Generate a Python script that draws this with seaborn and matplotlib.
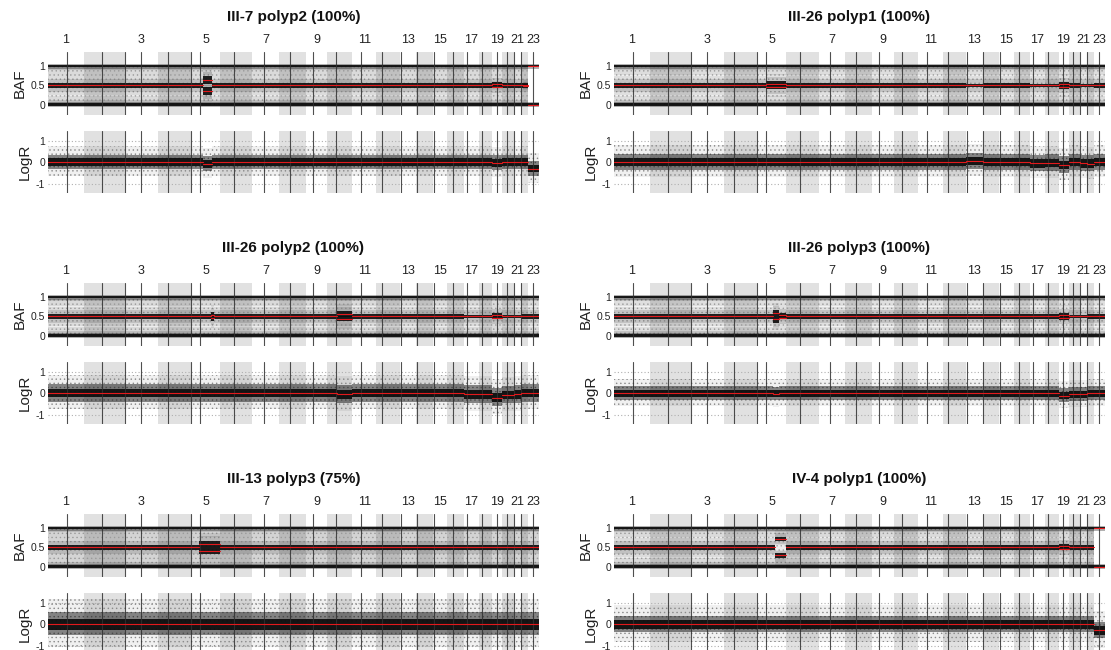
import numpy as np
import pandas as pd
import matplotlib
matplotlib.use("Agg")
import matplotlib.pyplot as plt
import seaborn as sns

# ---------------- data ----------------
chrom_names = [str(i) for i in range(1, 24)]
# relative chromosome widths (SNP-index based x axis)
chrom_widths = [36, 41, 33, 33, 29, 32.5, 26.5, 26.5, 22, 24.5, 24.5, 23.5,
                16.5, 16.5, 14.5, 16.5, 15, 13.5, 10, 11.5, 7, 6.5, 11.5]
# position of the vertical marker line inside each chromosome (fraction)
centromere_frac = [0.52, 0.44, 0.48, 0.30, 0.30, 0.42, 0.42, 0.40, 0.34, 0.33, 0.37, 0.24,
                   0.04, 0.03, 0.05, 0.35, 0.22, 0.22, 0.45, 0.40, 0.03, 0.05, 0.50]
extra_line_chroms = [2, 4]          # a line is also drawn at the end of these

panel_titles = ["III-7 polyp2 (100%)", "III-26 polyp1 (100%)",
                "III-26 polyp2 (100%)", "III-26 polyp3 (100%)",
                "III-13 polyp3 (75%)", "IV-4 polyp1 (100%)"]

# events: (chromosome, start fraction, end fraction, BAF band levels, LogR level, band half width)
events_p1 = [(5, 0.41, 0.72, (0.36, 0.64), -0.08, 0.10),
             (19, 0.0, 1.0, (0.47, 0.53), -0.03, 0.05),
             (22, 0.3, 1.0, (0.48, 0.52), 0.0, 0.05),
             (23, 0.0, 1.0, (), -0.30, 0.05)]
events_p2 = [(5, 0.31, 1.0, (0.45, 0.55), 0.0, 0.055),
             (13, 0.0, 1.0, (0.5,), 0.05, 0.05),
             (17, 0.0, 1.0, (0.5,), -0.05, 0.05),
             (18, 0.0, 1.0, (0.5,), -0.03, 0.05),
             (19, 0.0, 1.0, (0.46, 0.54), -0.12, 0.05),
             (21, 0.0, 1.0, (0.5,), -0.05, 0.05),
             (22, 0.0, 1.0, (0.5,), -0.06, 0.05)]
events_p3 = [(5, 0.68, 0.78, (0.45, 0.55), 0.0, 0.06),
             (10, 0.40, 1.0, (0.44, 0.56), -0.05, 0.07),
             (17, 0.0, 1.0, (0.5,), -0.05, 0.05),
             (18, 0.0, 1.0, (0.5,), -0.05, 0.05),
             (19, 0.0, 1.0, (0.47, 0.53), -0.20, 0.05),
             (20, 0.0, 1.0, (0.5,), -0.08, 0.05),
             (21, 0.0, 1.0, (0.5,), -0.05, 0.05)]
events_p4 = [(5, 0.55, 0.75, (0.42, 0.58), -0.03, 0.08),
             (5, 0.75, 1.0, (0.47, 0.53), 0.0, 0.05),
             (19, 0.0, 1.0, (0.46, 0.54), -0.10, 0.05),
             (20, 0.0, 1.0, (0.5,), -0.05, 0.05),
             (21, 0.0, 1.0, (0.5,), -0.05, 0.05)]
events_p5 = [(5, 0.28, 1.0, (0.41, 0.59), 0.0, 0.09)]
events_p6 = [(5, 0.62, 1.0, (0.29, 0.71), 0.0, 0.055),
             (19, 0.0, 1.0, (0.47, 0.53), 0.0, 0.05),
             (23, 0.0, 1.0, (), -0.28, 0.05)]
panel_events = [events_p1, events_p2, events_p3, events_p4, events_p5, events_p6]

# spread of the point clouds read per panel
het_halfwidth = [0.06, 0.055, 0.055, 0.055, 0.07, 0.055]
logr_core = [0.17, 0.19, 0.19, 0.16, 0.25, 0.20]
logr_mid = [0.32, 0.36, 0.38, 0.30, 0.50, 0.36]
logr_outer = [0.65, 0.70, 0.75, 0.60, 1.05, 0.80]
baf_cloud = [0.07, 0.06, 0.07, 0.05, 0.10, 0.07]

# ---------------- layout ----------------
sns.set_style("white")
plt.rcParams['font.family'] = ['Liberation Sans', 'DejaVu Sans']
plt.rcParams['axes.unicode_minus'] = False
plt.rcParams['hatch.linewidth'] = 0.5

W, H = 1111, 650
fig = plt.figure(figsize=(W / 100, H / 100), dpi=100)

widths = np.array(chrom_widths, dtype=float)
bounds = np.concatenate([[0.0], np.cumsum(widths)])
starts, ends = bounds[:-1], bounds[1:]
centers = (starts + ends) / 2
total = bounds[-1]

col_left = [48, 614]
axes_w = 491
row_off = [0, 231, 462]
BAF_LIM = (-0.27, 1.37)
LOGR_LIM = (-1.43, 1.47)
SHADE = '#e1e1e1'
INK = '#0c0c0c'
RED = '#e3191c'
TXT = '#222222'


def px_axes(left, top, w, h):
    return fig.add_axes([left / W, (H - top - h) / H, w / W, h / H])


def build_segments(events):
    segs = []
    for ci in range(23):
        chrom = ci + 1
        evs = sorted([e for e in events if e[0] == chrom], key=lambda e: e[1])
        pos = 0.0
        for e in evs:
            if e[1] > pos:
                segs.append((chrom, pos, e[1], (0.5,), 0.0, None))
            segs.append(e)
            pos = e[2]
        if pos < 1.0:
            segs.append((chrom, pos, 1.0, (0.5,), 0.0, None))
    out = []
    for chrom, f0, f1, lev, lr, hw in segs:
        x0 = starts[chrom - 1] + f0 * widths[chrom - 1]
        x1 = starts[chrom - 1] + f1 * widths[chrom - 1]
        out.append((x0, x1, lev, lr, hw))
    return out


def step_fill(ax, segs, lo_fn, hi_fn, **kw):
    xs, lo, hi = [], [], []
    for s in segs:
        a, b = lo_fn(s), hi_fn(s)
        xs += [s[0], s[1]]
        lo += [a, a]
        hi += [b, b]
    ax.fill_between(xs, lo, hi, linewidth=0, **kw)


def decorate(ax, ylim):
    ax.set_xlim(0, total)
    ax.set_ylim(*ylim)
    for i in range(1, 23, 2):
        ax.axvspan(starts[i], ends[i], color=SHADE, lw=0, zorder=0)
    lines = [starts[i] + centromere_frac[i] * widths[i] for i in range(23)]
    lines += [ends[c - 1] for c in extra_line_chroms]
    for x in lines:
        ax.axvline(x, color='#303030', lw=0.8, alpha=0.85, zorder=6)
    for sp in ax.spines.values():
        sp.set_visible(False)
    ax.tick_params(axis='both', length=0)


for p in range(6):
    row, col = divmod(p, 2)
    left = col_left[col]
    off = row_off[row]
    segs = build_segments(panel_events[p])
    hw0 = het_halfwidth[p]

    def hw(s):
        return s[4] if s[4] is not None else hw0

    # ---------- BAF ----------
    axb = px_axes(left, 52 + off, axes_w, 63)
    decorate(axb, BAF_LIM)
    # diffuse cloud between homozygous bands
    step_fill(axb, segs, lambda s: 0.0, lambda s: 1.0 if s[2] else 0.0,
              color='k', alpha=baf_cloud[p], zorder=1)
    step_fill(axb, segs, lambda s: 0.0, lambda s: 1.0 if s[2] else 0.0,
              facecolor='none', edgecolor='#a8a8a8', hatch='....', zorder=1)
    for d, a in ((0.22, 0.08), (0.11, 0.12)):
        step_fill(axb, segs, lambda s, d=d: 0.0, lambda s, d=d: d if s[2] else 0.0,
                  color='k', alpha=a, zorder=1)
        step_fill(axb, segs, lambda s, d=d: 1.0 - d if s[2] else 1.0, lambda s: 1.0,
                  color='k', alpha=a, zorder=1)
    # heterozygous band(s)
    for k in range(2):
        def lev(s, k=k):
            return s[2][min(k, len(s[2]) - 1)] if s[2] else 0.5

        def has(s, k=k):
            return 1.0 if len(s[2]) > k else 0.0
        for d, a in ((0.20, 0.07), (0.11, 0.12)):
            step_fill(axb, segs, lambda s, d=d: lev(s) - (hw(s) + d) * has(s) if len(s[2]) < 2 or k == 0 else lev(s) - (hw(s) + d / 2) * has(s),
                      lambda s, d=d: lev(s) + (hw(s) + d) * has(s) if len(s[2]) < 2 or k == 1 else lev(s) + (hw(s) + d / 2) * has(s),
                      color='k', alpha=a, zorder=2)
        step_fill(axb, segs, lambda s: lev(s) - hw(s) * has(s), lambda s: lev(s) + hw(s) * has(s),
                  color=INK, alpha=0.9, zorder=3)
    # homozygous bands
    for c in (0.0, 1.0):
        axb.fill_between([0, total], c - 0.06, c + 0.06, color='k', alpha=0.30, lw=0, zorder=2)
        axb.fill_between([0, total], c - 0.03, c + 0.03, color=INK, alpha=0.92, lw=0, zorder=3)
    # red segment lines
    rows = []
    sid = 0
    for s in segs:
        levels = s[2] if s[2] else (0.0, 1.0)
        for lv in levels:
            rows.append((s[0], lv, sid))
            rows.append((s[1], lv, sid))
            sid += 1
    dfb = pd.DataFrame(rows, columns=['x', 'y', 'seg'])
    sns.lineplot(data=dfb, x='x', y='y', units='seg', estimator=None, sort=False,
                 color=RED, lw=0.8, ax=axb, legend=False, zorder=7)
    axb.set_xlabel('')
    axb.set_ylabel('BAF', fontsize=11, color=TXT, labelpad=3)
    axb.set_yticks([0, 0.5, 1])
    axb.set_yticklabels(['0', '0.5', '1'], fontsize=7.5, color=TXT)
    axb.xaxis.tick_top()
    odd = list(range(0, 23, 2))
    axb.set_xticks(centers[odd])
    axb.set_xticklabels([chrom_names[i] for i in odd], fontsize=9, color=TXT)
    axb.tick_params(axis='x', pad=4)
    axb.tick_params(axis='y', pad=2)

    # ---------- LogR ----------
    axl = px_axes(left, 131 + off, axes_w, 62)
    decorate(axl, LOGR_LIM)
    for yv in (-1, 1):
        axl.axhline(yv, color='#b0b0b0', lw=0.8, ls=(0, (1, 2)), zorder=1)
    step_fill(axl, segs, lambda s: s[3] - logr_outer[p], lambda s: s[3] + 1.15 * logr_outer[p],
              color='k', alpha=0.06, zorder=1)
    step_fill(axl, segs, lambda s: s[3] - logr_outer[p], lambda s: s[3] + 1.15 * logr_outer[p],
              facecolor='none', edgecolor='#8a8a8a', hatch='....', zorder=1)
    step_fill(axl, segs, lambda s: s[3] - logr_mid[p], lambda s: s[3] + 1.15 * logr_mid[p],
              color='k', alpha=0.45, zorder=2)
    step_fill(axl, segs, lambda s: s[3] - logr_core[p], lambda s: s[3] + 1.1 * logr_core[p],
              color=INK, alpha=0.92, zorder=3)
    rows = []
    for i, s in enumerate(segs):
        rows.append((s[0], s[3], i))
        rows.append((s[1], s[3], i))
    dfl = pd.DataFrame(rows, columns=['x', 'y', 'seg'])
    sns.lineplot(data=dfl, x='x', y='y', units='seg', estimator=None, sort=False,
                 color=RED, lw=0.8, ax=axl, legend=False, zorder=7)
    axl.set_xlabel('')
    axl.set_ylabel('LogR', fontsize=11, color=TXT, labelpad=3)
    axl.set_xticks([])
    axl.set_yticks([-1, 0, 1])
    axl.set_yticklabels(['-1', '0', '1'], fontsize=7.5, color=TXT)
    axl.tick_params(axis='y', pad=2)

    # ---------- title ----------
    fig.text((left + axes_w / 2) / W, 1 - (17 + off) / H, panel_titles[p],
             ha='center', va='center', fontsize=11, fontweight='bold', color='#111111')

fig.savefig('out.png', dpi=100)
